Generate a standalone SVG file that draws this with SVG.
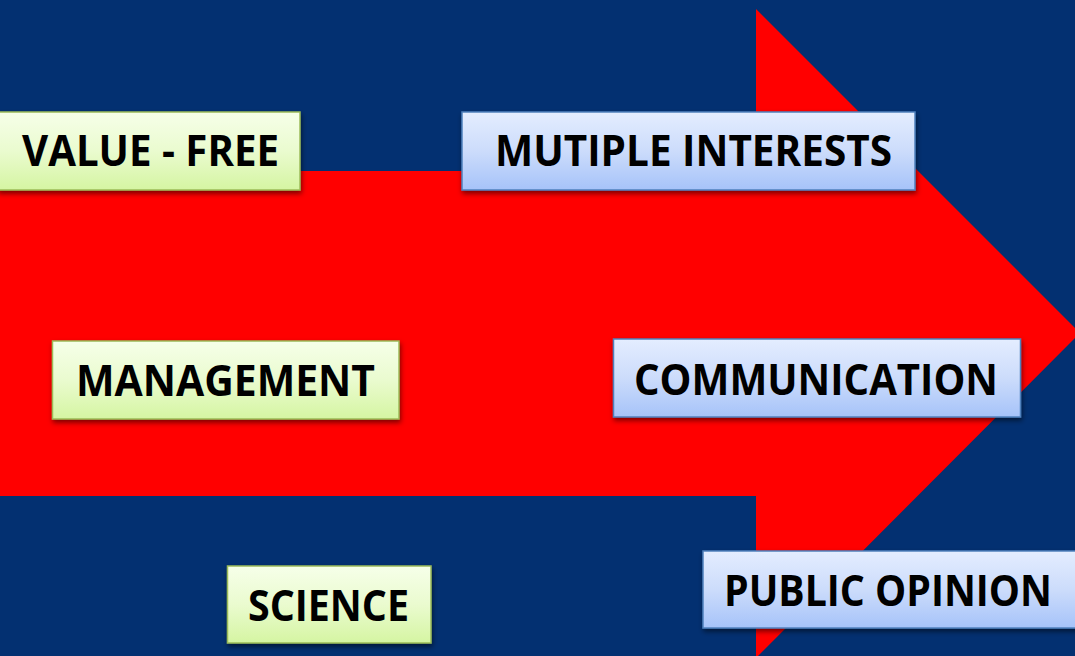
<svg xmlns="http://www.w3.org/2000/svg" width="1075" height="656" viewBox="0 0 1075 656">
<style>
.lbl{font-family:"Open Sans","Noto Sans","Liberation Sans",sans-serif;font-weight:bold;font-size:43px;fill:#000;}
.g{fill:url(#gg);stroke:#9BBB59;stroke-width:1.5;filter:url(#sh);}
.b{fill:url(#bg);stroke:#4F81BD;stroke-width:1.5;filter:url(#sh);}
</style>
<defs>
<linearGradient id="gg" x1="0" y1="0" x2="0" y2="1">
<stop offset="0" stop-color="#F6FFE9"/>
<stop offset="0.5" stop-color="#EAFBCF"/>
<stop offset="1" stop-color="#D5F5A2"/>
</linearGradient>
<linearGradient id="bg" x1="0" y1="0" x2="0" y2="1">
<stop offset="0" stop-color="#E4EDFF"/>
<stop offset="0.5" stop-color="#CCDCFB"/>
<stop offset="1" stop-color="#A6C3F9"/>
</linearGradient>
<filter id="sh" x="-10%" y="-20%" width="120%" height="150%">
<feDropShadow dx="1" dy="3" stdDeviation="2.5" flood-color="#000" flood-opacity="0.5"/>
</filter>
</defs>
<rect x="0" y="0" width="1075" height="656" fill="#033071"/>
<g id="arrow">
<polygon points="0,171 756,171 756,9 1080,333 756,658 756,496 0,496" fill="#FF0000"/>
</g>
<g id="connectors"></g>
<g id="value-free">
<rect class="g" x="-2" y="112" width="302" height="78"/>
<text class="lbl" x="150.5" y="166" text-anchor="middle" textLength="257" lengthAdjust="spacingAndGlyphs">VALUE - FREE</text>
</g>
<g id="multiple-interests">
<rect class="b" x="462" y="112" width="453" height="78"/>
<text class="lbl" x="693.5" y="166" text-anchor="middle" textLength="397" lengthAdjust="spacingAndGlyphs">MUTIPLE INTERESTS</text>
</g>
<g id="management">
<rect class="g" x="52.5" y="341" width="346.5" height="78"/>
<text class="lbl" x="225.5" y="396" text-anchor="middle" textLength="299" lengthAdjust="spacingAndGlyphs">MANAGEMENT</text>
</g>
<g id="communication">
<rect class="b" x="613.5" y="339" width="407" height="78"/>
<text class="lbl" x="816" y="395" text-anchor="middle" textLength="364" lengthAdjust="spacingAndGlyphs">COMMUNICATION</text>
</g>
<g id="science">
<rect class="g" x="227.5" y="566" width="203.5" height="77"/>
<text class="lbl" x="328.5" y="621" text-anchor="middle" textLength="161" lengthAdjust="spacingAndGlyphs">SCIENCE</text>
</g>
<g id="public-opinion">
<rect class="b" x="703" y="551" width="380" height="77"/>
<text class="lbl" x="888" y="606" text-anchor="middle" textLength="328" lengthAdjust="spacingAndGlyphs">PUBLIC OPINION</text>
</g>
</svg>
